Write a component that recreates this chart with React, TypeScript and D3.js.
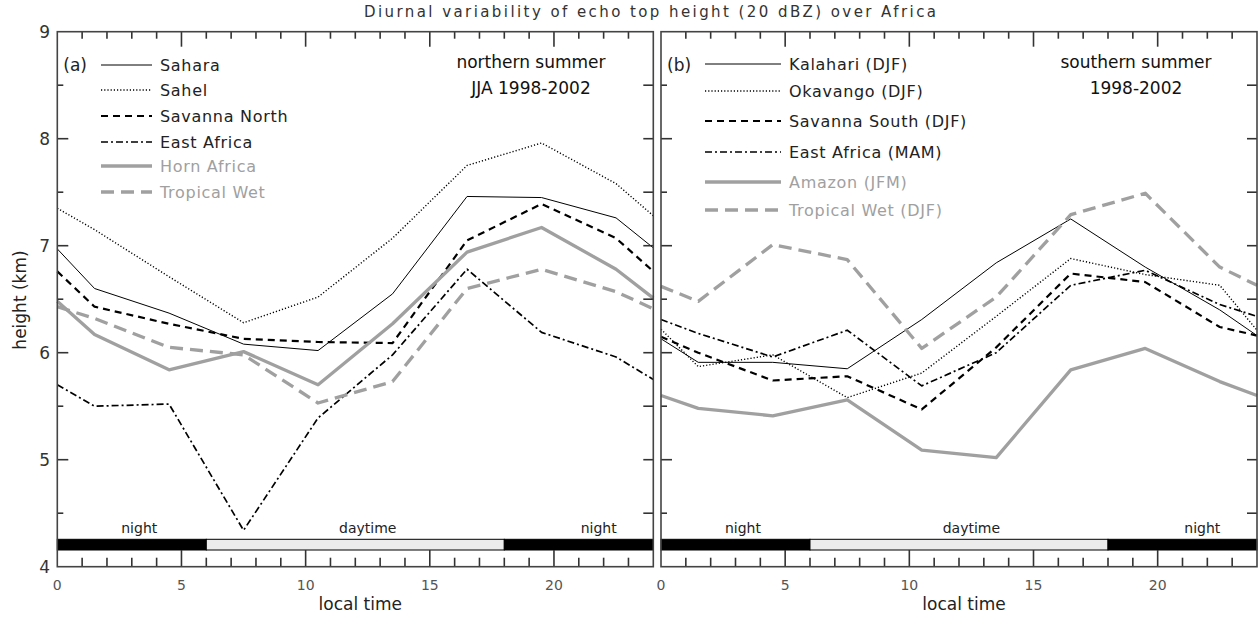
import React from "react";
import * as d3 from "d3";

// ---------- data ----------
const HOURS = [0, 1.5, 4.5, 7.5, 10.5, 13.5, 16.5, 19.5, 22.5, 24];

const NORTH_NAMES = ["Sahara", "Sahel", "Savanna North", "East Africa", "Horn Africa", "Tropical Wet"];
const sahara = [6.97, 6.6, 6.37, 6.08, 6.02, 6.55, 7.46, 7.45, 7.26, 6.98];
const sahel = [7.35, 7.15, 6.71, 6.28, 6.52, 7.07, 7.75, 7.96, 7.58, 7.28];
const savannaNorth = [6.76, 6.43, 6.27, 6.13, 6.1, 6.09, 7.05, 7.39, 7.07, 6.76];
const eastAfrica = [5.7, 5.5, 5.52, 4.34, 5.39, 5.98, 6.78, 6.19, 5.96, 5.75];
const hornAfrica = [6.48, 6.17, 5.84, 6.01, 5.7, 6.27, 6.94, 7.17, 6.78, 6.51];
const tropicalWetN = [6.43, 6.32, 6.05, 5.98, 5.53, 5.73, 6.6, 6.78, 6.57, 6.41];

const SOUTH_NAMES = [
  "Kalahari (DJF)",
  "Okavango (DJF)",
  "Savanna South (DJF)",
  "East Africa (MAM)",
  "Amazon (JFM)",
  "Tropical Wet (DJF)",
];
const kalahari = [6.13, 5.91, 5.91, 5.85, 6.31, 6.84, 7.25, 6.8, 6.4, 6.16];
const okavango = [6.22, 5.87, 5.98, 5.58, 5.81, 6.34, 6.88, 6.73, 6.63, 6.21];
const savannaSouth = [6.15, 6.0, 5.74, 5.78, 5.47, 6.05, 6.74, 6.66, 6.24, 6.16];
const eastAfricaMAM = [6.31, 6.18, 5.96, 6.21, 5.69, 6.0, 6.63, 6.77, 6.45, 6.34];
const amazon = [5.6, 5.48, 5.41, 5.56, 5.09, 5.02, 5.84, 6.04, 5.73, 5.6];
const tropicalWetS = [6.62, 6.48, 7.01, 6.87, 6.04, 6.52, 7.29, 7.49, 6.8, 6.63];

const X_TICK_LABELS = [0, 5, 10, 15, 20];
const Y_TICK_LABELS = [4, 5, 6, 7, 8, 9];
const HOUR_TICKS = d3.range(1, 24);
const HEIGHT_TICKS = [4.5, 5, 5.5, 6, 6.5, 7, 7.5, 8, 8.5];
const PERIODS = [
  { from: 0, to: 6, night: true },
  { from: 6, to: 18, night: false },
  { from: 18, to: 24, night: true },
];
const PERIOD_LABELS = [
  { at: 3.3, text: "night" },
  { at: 12.5, text: "daytime" },
  { at: 21.8, text: "night" },
];

// ---------- styles ----------
const GRAY = "#a0a0a0";
const STYLES = [
  { stroke: "#000", width: 1, dash: undefined },
  { stroke: "#000", width: 1.4, dash: "1.2,2" },
  { stroke: "#000", width: 2.2, dash: "7,5" },
  { stroke: "#000", width: 1.7, dash: "7,3,2,3" },
  { stroke: GRAY, width: 3.3, dash: undefined },
  { stroke: GRAY, width: 3.3, dash: "13,7" },
];
const FONT = "DejaVu Sans, sans-serif";
const FRAME = "#444";
const TICK = "#333";

const yScale = d3.scaleLinear().domain([4, 9]).range([566.7, 31.7]);

function Panel({ x0, x1, names, series, tag, season, showYLabels, legendLine, legendRows, seasonX }) {
  const x = d3.scaleLinear().domain([0, 24]).range([x0, x1]);
  const lineGen = d3
    .line<number>()
    .x((_, i) => x(HOURS[i]))
    .y((d) => yScale(d));
  const barTop = 539.3;
  const barBot = 550;
  const yTop = yScale(9);
  const yBot = yScale(4);
  return (
    <g>
      {series.map((s, i) => (
        <path
          key={"s" + i}
          d={lineGen(s) || ""}
          fill="none"
          stroke={STYLES[i].stroke}
          strokeWidth={STYLES[i].width}
          strokeDasharray={STYLES[i].dash}
          strokeLinejoin="round"
        />
      ))}
      {PERIODS.map((p, i) => (
        <rect
          key={"p" + i}
          x={x(p.from)}
          y={barTop}
          width={x(p.to) - x(p.from)}
          height={barBot - barTop}
          fill={p.night ? "#000" : "#ececec"}
          stroke="#000"
          strokeWidth={1}
        />
      ))}
      {PERIOD_LABELS.map((p, i) => (
        <text key={"pl" + i} x={x(p.at)} y={533} textAnchor="middle" fontFamily={FONT} fontSize={14} fill="#222">
          {p.text}
        </text>
      ))}
      {HOUR_TICKS.map((h) => (
        <line
          key={"xb" + h}
          x1={x(h)}
          x2={x(h)}
          y1={yBot}
          y2={h % 5 === 0 ? barBot : yBot - 9}
          stroke={TICK}
          strokeWidth={1.6}
        />
      ))}
      {HOUR_TICKS.map((h) => (
        <line
          key={"xt" + h}
          x1={x(h)}
          x2={x(h)}
          y1={yTop}
          y2={yTop + (h % 5 === 0 ? 15 : 7)}
          stroke={TICK}
          strokeWidth={1.6}
        />
      ))}
      {HEIGHT_TICKS.map((v) => (
        <line
          key={"yl" + v}
          x1={x0}
          x2={x0 + (Number.isInteger(v) ? 11 : 6)}
          y1={yScale(v)}
          y2={yScale(v)}
          stroke={TICK}
          strokeWidth={1.6}
        />
      ))}
      {HEIGHT_TICKS.map((v) => (
        <line key={"yr" + v} x1={x1 - 10} x2={x1} y1={yScale(v)} y2={yScale(v)} stroke={TICK} strokeWidth={1.6} />
      ))}
      <rect x={x0} y={yTop} width={x1 - x0} height={yBot - yTop} fill="none" stroke={FRAME} strokeWidth={1.6} />
      {X_TICK_LABELS.map((t) => (
        <text key={"xl" + t} x={x(t)} y={590} textAnchor="middle" fontFamily={FONT} fontSize={14} fill="#555">
          {t}
        </text>
      ))}
      {showYLabels &&
        Y_TICK_LABELS.map((t) => (
          <text key={"ylab" + t} x={50} y={yScale(t) + 6} textAnchor="end" fontFamily={FONT} fontSize={17} fill="#333">
            {t}
          </text>
        ))}
      <text x={(x0 + x1) / 2 + 5} y={610} textAnchor="middle" fontFamily={FONT} fontSize={17} fill="#222">
        local time
      </text>
      <text x={x0 + 6} y={71} fontFamily={FONT} fontSize={17} fill="#222">
        {tag}
      </text>
      {names.map((n, i) => (
        <g key={n}>
          <line
            x1={legendLine[0]}
            x2={legendLine[1]}
            y1={legendRows[i]}
            y2={legendRows[i]}
            stroke={STYLES[i].stroke}
            strokeWidth={STYLES[i].width}
            strokeDasharray={STYLES[i].dash}
          />
          <text
            x={legendLine[1] + 8}
            y={legendRows[i] + 6}
            fontFamily={FONT}
            fontSize={16}
            letterSpacing={0.7}
            fill={i >= 4 ? GRAY : "#222"}
          >
            {n}
          </text>
        </g>
      ))}
      {season.map((s, i) => (
        <text key={"se" + i} x={seasonX} y={68 + i * 26} textAnchor="middle" fontFamily={FONT} fontSize={17} fill="#111">
          {s}
        </text>
      ))}
    </g>
  );
}

export default function App() {
  return (
    <svg width={1260} height={617} style={{ position: "absolute", left: 0, top: 0, background: "#fff" }}>
      <rect width={1260} height={617} fill="#fff" />
      <text x={650} y={17} textAnchor="middle" fontFamily={FONT} fontSize={15} textLength={572} lengthAdjust="spacing" fill="#333">
        Diurnal variability of echo top height (20 dBZ) over Africa
      </text>
      <text transform="translate(26,300) rotate(-90)" textAnchor="middle" fontFamily={FONT} fontSize={17} fill="#222">
        height (km)
      </text>
      <Panel
        x0={57.3}
        x1={653.3}
        names={NORTH_NAMES}
        series={[sahara, sahel, savannaNorth, eastAfrica, hornAfrica, tropicalWetN]}
        tag="(a)"
        season={["northern summer", "JJA 1998-2002"]}
        seasonX={531}
        showYLabels={true}
        legendLine={[101, 152]}
        legendRows={[65, 90, 116, 142, 166, 192]}
      />
      <Panel
        x0={661}
        x1={1257}
        names={SOUTH_NAMES}
        series={[kalahari, okavango, savannaSouth, eastAfricaMAM, amazon, tropicalWetS]}
        tag="(b)"
        season={["southern summer", "1998-2002"]}
        seasonX={1136}
        showYLabels={false}
        legendLine={[705, 781]}
        legendRows={[64, 91, 121, 152, 182, 210]}
      />
    </svg>
  );
}
